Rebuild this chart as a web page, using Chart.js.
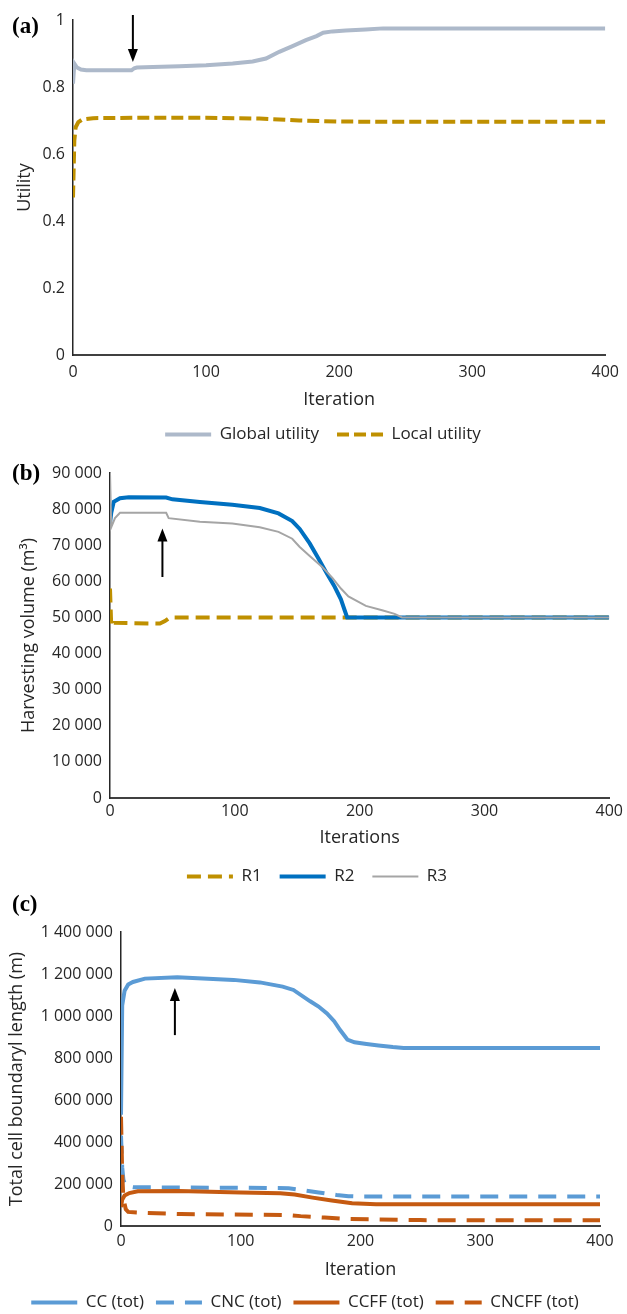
<!DOCTYPE html>
<html>
<head>
<meta charset="utf-8">
<script src="https://cdn.jsdelivr.net/npm/chart.js@4"></script>
<style>
	html, body { margin: 0; padding: 0; background: #fff; width: 627px; height: 1314px; overflow: hidden; }
	#page { position: relative; width: 627px; height: 1314px; overflow: hidden; }
	#page canvas { position: absolute; left: 0; }
	.panel { position: absolute; left: 12px; font: bold 23px "Liberation Serif", "DejaVu Serif", serif; line-height: 1; color: #000; }
</style>
</head>
<body>
<div id="page">
	<canvas id="chart-a" width="627" height="453" style="top:0"></canvas>
	<canvas id="chart-b" width="627" height="442" style="top:453px"></canvas>
	<canvas id="chart-c" width="627" height="426" style="top:895px"></canvas>
	<div class="panel" style="top:14px">(a)</div>
	<div class="panel" style="top:461px">(b)</div>
	<div class="panel" style="top:892px">(c)</div>
</div>
<script>
/* global Chart */
(function () {
	'use strict';

	var FONT = '"Open Sans", "Noto Sans", sans-serif';
	var TEXT = '#262626';

	// (a) utility
	var globalIter = [0, 1, 3, 6, 10, 44, 46, 48, 60, 80, 100, 120, 135, 145, 155, 165, 175, 183, 188, 195, 205, 220, 233, 400];
	var globalUtility = [0.81, 0.87, 0.858, 0.852, 0.85, 0.85, 0.856, 0.858, 0.86, 0.862, 0.865, 0.87, 0.876, 0.885, 0.905, 0.922, 0.94, 0.952, 0.962, 0.966, 0.969, 0.972, 0.975, 0.975];
	var localIter = [0, 1, 2, 4, 7, 15, 50, 100, 140, 170, 200, 230, 400];
	var localUtility = [0.47, 0.64, 0.68, 0.695, 0.703, 0.707, 0.708, 0.708, 0.706, 0.7, 0.697, 0.696, 0.696];

	// (b) harvesting volume
	var r1Iter = [0, 1, 3, 40, 44, 48, 400];
	var r1Volume = [58000, 47500, 48500, 48300, 49000, 50000, 50000];
	var r2Iter = [0, 1, 3, 8, 15, 45, 50, 72, 98, 120, 135, 146, 152, 160, 167, 174, 180, 185, 188, 190, 400];
	var r2Volume = [76000, 79000, 82000, 83000, 83300, 83200, 82700, 82000, 81200, 80300, 78800, 76700, 74500, 70500, 66300, 62000, 58500, 55000, 52000, 50000, 50000];
	var r3Iter = [0, 1, 4, 8, 45, 47, 72, 98, 120, 135, 146, 152, 160, 170, 178, 185, 191, 205, 218, 228, 234, 400];
	var r3Volume = [90000, 75000, 77500, 79000, 79000, 77500, 76500, 76000, 75000, 73700, 71800, 69500, 67000, 64000, 61000, 58000, 55800, 53200, 52000, 51000, 50000, 50000];

	// (c) total cell boundary length
	var ccIter = [0, 1, 3, 6, 10, 20, 47, 94, 116, 135, 144, 158, 165, 172, 178, 183, 189, 195, 205, 215, 227, 236, 400];
	var ccLength = [530000, 1050000, 1120000, 1150000, 1162000, 1178000, 1185000, 1172000, 1160000, 1140000, 1124000, 1070000, 1045000, 1012000, 975000, 933000, 888000, 875000, 867000, 860000, 852000, 848000, 848000];
	var cncIter = [0, 1, 2, 4, 10, 50, 100, 140, 150, 165, 180, 190, 200, 400];
	var cncLength = [430000, 280000, 220000, 190000, 185000, 183000, 182000, 180000, 172000, 160000, 148000, 142000, 140000, 140000];
	var ccffIter = [0, 1, 3, 7, 14, 48, 100, 133, 145, 160, 176, 193, 213, 400];
	var ccffLength = [90000, 125000, 145000, 157000, 165000, 167000, 160000, 156000, 150000, 135000, 121000, 108000, 104000, 104000];
	var cncffIter = [0, 1, 2, 4, 6, 20, 50, 140, 150, 170, 190, 250, 400];
	var cncffLength = [520000, 250000, 130000, 80000, 67000, 62000, 57000, 52000, 47000, 40000, 33000, 28000, 27000];

	// arrow annotations (iteration, from value, to value)
	var arrowA = { x: 45, from: 1.015, to: 0.875 };
	var arrowB = { x: 42, from: 61200, to: 74600 };
	var arrowC = { x: 45, from: 909000, to: 1133000 };

	function pts( xs, ys ) {
		return xs.map( function ( x, i ) { return { x: x, y: ys[ i ] }; } );
	}

	function spaced( v ) {
		return String( v ).replace( /\B(?=(\d{3})+(?!\d))/g, ' ' );
	}

	var arrowPlugin = {
		id: 'arrow',
		afterDraw: function ( chart, args, opts ) {
			if ( ! opts || opts.x === undefined ) { return; }
			var ctx = chart.ctx;
			var x = chart.scales.x.getPixelForValue( opts.x );
			var y0 = chart.scales.y.getPixelForValue( opts.from );
			var y1 = chart.scales.y.getPixelForValue( opts.to );
			var dir = y1 > y0 ? 1 : -1;
			ctx.save();
			ctx.strokeStyle = '#000';
			ctx.fillStyle = '#000';
			ctx.lineWidth = 2;
			ctx.beginPath();
			ctx.moveTo( x, y0 );
			ctx.lineTo( x, y1 - dir * 10 );
			ctx.stroke();
			ctx.beginPath();
			ctx.moveTo( x, y1 );
			ctx.lineTo( x - 5, y1 - dir * 13 );
			ctx.lineTo( x + 5, y1 - dir * 13 );
			ctx.closePath();
			ctx.fill();
			ctx.restore();
		},
	};

	function line( label, xs, ys, color, width, dash, order ) {
		return {
			label: label,
			data: pts( xs, ys ),
			borderColor: color,
			backgroundColor: color,
			borderWidth: width,
			borderDash: dash || [],
			order: order,
			fill: false,
			pointRadius: 0,
		};
	}

	function makeChart( id, cfg ) {
		return new Chart( document.getElementById( id ), {
			type: 'line',
			data: { datasets: cfg.datasets },
			plugins: [ arrowPlugin ],
			options: {
				responsive: false,
				animation: false,
				layout: { padding: cfg.padding },
				elements: { line: { tension: 0, borderCapStyle: 'butt' } },
				plugins: {
					tooltip: { enabled: false },
					arrow: cfg.arrow,
					legend: {
						position: 'bottom',
						labels: {
							font: { family: FONT, size: 17 },
							color: TEXT,
							usePointStyle: true,
							pointStyleWidth: 46,
							padding: cfg.legendPad,
							generateLabels: function ( chart ) {
								return chart.data.datasets.map( function ( ds, i ) {
									return {
										text: ds.label,
										datasetIndex: i,
										fillStyle: ds.borderColor,
										strokeStyle: ds.borderColor,
										lineWidth: ds.borderWidth,
										lineDash: ds.borderDash,
										lineCap: 'butt',
										pointStyle: 'line',
										fontColor: TEXT,
										hidden: false,
									};
								} );
							},
						},
					},
				},
				scales: {
					x: {
						type: 'linear',
						min: 0,
						max: 400,
						grid: { display: false, drawTicks: false },
						border: { color: '#404040', width: 2 },
						ticks: { stepSize: 100, padding: cfg.xTickPad, font: { family: FONT, size: 16 }, color: TEXT },
						title: { display: true, text: cfg.xTitle, font: { family: FONT, size: 18 }, color: TEXT, padding: { top: 0, bottom: cfg.xTitlePad } },
						afterFit: function ( s ) { s.height = cfg.xHeight; },
					},
					y: {
						min: 0,
						max: cfg.yMax,
						grid: { display: false, drawTicks: false },
						border: { color: '#262626', width: 1.5 },
						ticks: { stepSize: cfg.yStep, padding: 8, font: { family: FONT, size: 16 }, color: TEXT, callback: cfg.yFormat },
						title: { display: true, text: cfg.yTitle, font: { family: FONT, size: 18 }, color: TEXT, padding: { top: cfg.yTitlePad, bottom: 0 } },
						afterFit: function ( s ) { s.width = cfg.yWidth; },
					},
				},
			},
		} );
	}

	makeChart( 'chart-a', {
		datasets: [
			line( 'Global utility', globalIter, globalUtility, '#ADB9CA', 4, null, 1 ),
			line( 'Local utility', localIter, localUtility, '#BF9000', 4, [ 12, 5 ], 2 ),
		],
		padding: { top: 20, right: 15, left: 34, bottom: 0 },
		legendPad: 18,
		xTickPad: 8,
		xTitle: 'Iteration',
		xTitlePad: -3,
		xHeight: 53,
		yMax: 1,
		yStep: 0.2,
		yFormat: function ( v ) { return String( +v.toFixed( 1 ) ); },
		yTitle: 'Utility',
		yTitlePad: -20,
		yWidth: 39,
		arrow: arrowA,
	} );

	makeChart( 'chart-b', {
		datasets: [
			line( 'R1', r1Iter, r1Volume, '#BF9000', 4, [ 14, 7 ], 3 ),
			line( 'R2', r2Iter, r2Volume, '#0070C0', 4, null, 2 ),
			line( 'R3', r3Iter, r3Volume, '#A5A5A5', 2, null, 1 ),
		],
		padding: { top: 20, right: 15, left: 22, bottom: 0 },
		legendPad: 18,
		xTickPad: 4,
		xTitle: 'Iterations',
		xTitlePad: 1,
		xHeight: 52,
		yMax: 90000,
		yStep: 10000,
		yFormat: spaced,
		yTitle: 'Harvesting volume (m³)',
		yTitlePad: -4,
		yWidth: 88,
		arrow: arrowB,
	} );

	makeChart( 'chart-c', {
		datasets: [
			line( 'CC (tot)', ccIter, ccLength, '#5B9BD5', 4, null, 4 ),
			line( 'CNC (tot)', cncIter, cncLength, '#5B9BD5', 4, [ 18, 11 ], 3 ),
			line( 'CCFF (tot)', ccffIter, ccffLength, '#C55A11', 4, null, 2 ),
			line( 'CNCFF (tot)', cncffIter, cncffLength, '#C55A11', 4, [ 18, 11 ], 1 ),
		],
		padding: { top: 37, right: 27, left: 10, bottom: 0 },
		legendPad: 12,
		xTickPad: 6,
		xTitle: 'Iteration',
		xTitlePad: 1,
		xHeight: 56,
		yMax: 1400000,
		yStep: 200000,
		yFormat: spaced,
		yTitle: 'Total cell boundaryl length (m)',
		yTitlePad: -4,
		yWidth: 111,
		arrow: arrowC,
	} );
}() );
</script>
</body>
</html>
